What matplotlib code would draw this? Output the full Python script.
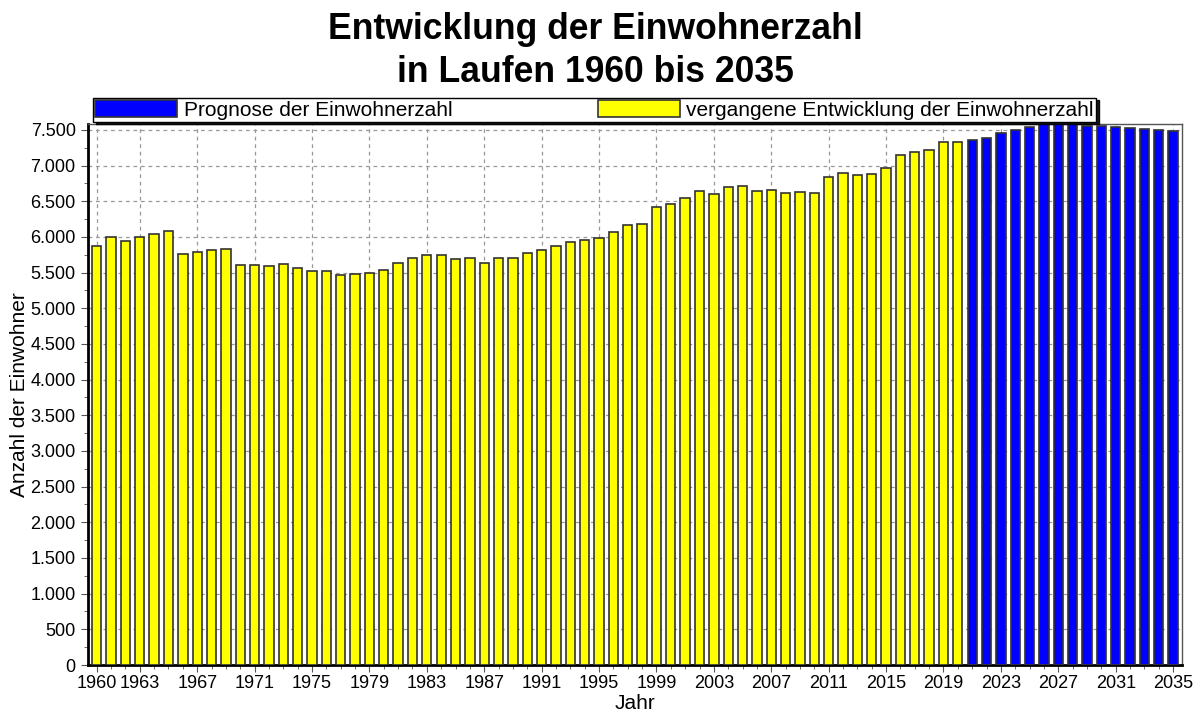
import numpy as np
import matplotlib
matplotlib.use("Agg")
import matplotlib.pyplot as plt
from matplotlib.ticker import FuncFormatter, MultipleLocator

plt.rcParams['font.family'] = ['Liberation Sans', 'DejaVu Sans']

# data
years_past = list(range(1960, 2021))
pop_past = [5869, 6005, 5944, 5995, 6038, 6080, 5756, 5789, 5817, 5831,
            5606, 5606, 5587, 5620, 5568, 5526, 5526, 5465, 5484, 5498,
            5540, 5634, 5709, 5742, 5742, 5695, 5709, 5634, 5709, 5709,
            5770, 5817, 5878, 5925, 5958, 5991, 6066, 6160, 6174, 6423,
            6465, 6545, 6639, 6606, 6700, 6718, 6639, 6653, 6615, 6629,
            6615, 6845, 6892, 6864, 6878, 6972, 7141, 7192, 7220, 7324,
            7324]
years_prog = list(range(2021, 2036))
pop_prog = [7352, 7386, 7451, 7493, 7541, 7610, 7620, 7610, 7549, 7549,
            7541, 7527, 7507, 7499, 7479]
xtick_years = [1960] + list(range(1963, 2036, 4))

fig = plt.figure(figsize=(12.01, 7.13), dpi=100)
ax = fig.add_axes([0.0729, 0.0673, 0.9114, 0.7581])

ax.bar(years_past, pop_past, width=0.65, color='#ffff00', edgecolor='#333333',
       linewidth=1.2, zorder=3)
ax.bar(years_prog, pop_prog, width=0.65, color='#0000ff', edgecolor='#333333',
       linewidth=1.2, zorder=3)

ax.set_xlim(1959.36, 2035.63)
ax.set_ylim(0, 7575)
ax.set_xticks(xtick_years)
ax.xaxis.set_minor_locator(MultipleLocator(1))
ax.yaxis.set_major_locator(MultipleLocator(500))
ax.yaxis.set_minor_locator(MultipleLocator(250))
ax.yaxis.set_major_formatter(FuncFormatter(lambda v, p: f"{int(v):,}".replace(',', '.')))
ax.tick_params(axis='both', which='major', labelsize=13, length=5, color='#555555')
ax.tick_params(axis='both', which='minor', length=3, color='#555555')
ax.tick_params(axis='x', pad=2)

ax.grid(True, which='major', linestyle=(0, (3, 3)), color='#999999', linewidth=0.9, zorder=0)

for s in ['left', 'bottom']:
    ax.spines[s].set_linewidth(2)
    ax.spines[s].set_color('black')
for s in ['top', 'right']:
    ax.spines[s].set_linewidth(1)
    ax.spines[s].set_color('#555555')

ax.set_xlabel('Jahr', fontsize=15, labelpad=1.5)
ax.set_ylabel('Anzahl der Einwohner', fontsize=15, labelpad=1)

fig.text(0.496, 1 - 39.3 / 713, 'Entwicklung der Einwohnerzahl',
         ha='center', va='baseline', fontsize=25.6, fontweight='bold')
fig.text(0.496, 1 - 81.7 / 713, 'in Laufen 1960 bis 2035',
         ha='center', va='baseline', fontsize=25.6, fontweight='bold')

h1 = plt.Rectangle((0, 0), 1, 1, facecolor='#0000ff', edgecolor='#333333', linewidth=1.2)
h2 = plt.Rectangle((0, 0), 1, 1, facecolor='#ffff00', edgecolor='#333333', linewidth=1.2)
leg = fig.legend([h1, h2], ['Prognose der Einwohnerzahl',
                            'vergangene Entwicklung der Einwohnerzahl'],
                 ncol=2, mode='expand', loc='lower left',
                 bbox_to_anchor=(93 / 1201, 1 - 122 / 713, 1003 / 1201, 25 / 713),
                 fontsize=15, handlelength=3.95, handleheight=0.9,
                 handletextpad=0.3, borderpad=0.1, borderaxespad=0,
                 fancybox=False, shadow={'color': 'black', 'alpha': 0.9, 'ox': 2, 'oy': -1.5},
                 edgecolor='black', framealpha=1)
leg.get_frame().set_linewidth(1)

fig.savefig('out.png', dpi=100)
